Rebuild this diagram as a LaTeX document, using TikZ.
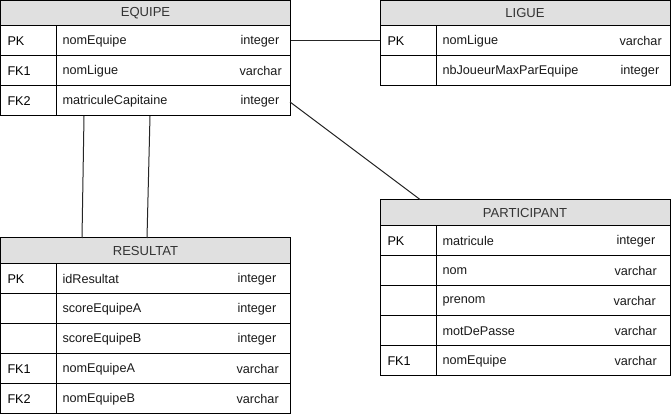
\documentclass[tikz,border=0pt]{standalone}
\usepackage{fontspec}
\setmainfont{Liberation Sans}
\definecolor{hdrgray}{HTML}{E0E0E0}
\definecolor{hdrtext}{HTML}{333333}
\definecolor{rowtext}{HTML}{1A1A1A}
\begin{document}
\begin{tikzpicture}[x=0.75pt,y=-0.75pt,line width=0.75pt,
  hdrbox/.style={draw=black,fill=hdrgray,minimum width=217.5pt,minimum height=19.5pt,inner sep=0pt,
     font=\fontsize{9.8}{11}\selectfont,text=hdrtext},
  rowbox/.style={draw=black,fill=white,minimum width=217.5pt,minimum height=22.5pt,inner sep=0pt},
  keytxt/.style={anchor=west,inner sep=0pt,font=\fontsize{9.5}{11}\selectfont},
  nametxt/.style={anchor=west,inner sep=0pt,font=\fontsize{9.5}{11}\selectfont,text=rowtext},
  typetxt/.style={anchor=west,inner sep=0pt,font=\fontsize{9.5}{11}\selectfont,text=rowtext},
  divline/.style={draw=black},
  conn/.style={draw=black!85,line width=0.75pt}]
\useasboundingbox (0,0) rectangle (671,416);
\fill[white] (0,0) rectangle (671,416);

% ---------------- EQUIPE
\node[hdrbox] (eqh) at (145.5,13.5) {EQUIPE};
\node[rowbox] (eq1) at (145.5,41) {};
\node[rowbox] (eq2) at (145.5,71) {};
\node[rowbox] (eq3) at (145.5,101) {};
\draw[divline] (56,26) -- (56,116);
\node[keytxt] (eq1k) at (7,41) {PK};
\node[nametxt] (eq1n) at (62,41) {nomEquipe};
\node[typetxt] (eq1t) at (240,41) {integer};
\node[keytxt] (eq2k) at (7,71) {FK1};
\node[nametxt] (eq2n) at (62,71) {nomLigue};
\node[typetxt] (eq2t) at (239,71) {varchar};
\node[keytxt] (eq3k) at (7,101) {FK2};
\node[nametxt] (eq3n) at (62,101) {matriculeCapitaine};
\node[typetxt] (eq3t) at (240,101) {integer};

% ---------------- LIGUE
\node[hdrbox] (lgh) at (525,13.5) {LIGUE};
\node[rowbox] (lg1) at (525,41) {};
\node[rowbox] (lg2) at (525,71) {};
\draw[divline] (436,26) -- (436,86);
\node[keytxt] (lg1k) at (387,41) {PK};
\node[nametxt] (lg1n) at (442,41) {nomLigue};
\node[typetxt] (lg1t) at (619,41) {varchar};
\node[nametxt] (lg2n) at (442,71) {nbJoueurMaxParEquipe};
\node[typetxt] (lg2t) at (620,71) {integer};

% ---------------- RESULTAT
\node[hdrbox] (rsh) at (145.5,251) {RESULTAT};
\node[rowbox] (rs1) at (145.5,279) {};
\node[rowbox] (rs2) at (145.5,309) {};
\node[rowbox] (rs3) at (145.5,339) {};
\node[rowbox] (rs4) at (145.5,369) {};
\node[rowbox] (rs5) at (145.5,399) {};
\draw[divline] (56,264) -- (56,414);
\node[keytxt] (rs1k) at (7,279) {PK};
\node[nametxt] (rs1n) at (62,279) {idResultat};
\node[typetxt] (rs1t) at (237,279) {integer};
\node[nametxt] (rs2n) at (62,309) {scoreEquipeA};
\node[typetxt] (rs2t) at (237,309) {integer};
\node[nametxt] (rs3n) at (62,339) {scoreEquipeB};
\node[typetxt] (rs3t) at (237,339) {integer};
\node[keytxt] (rs4k) at (7,369) {FK1};
\node[nametxt] (rs4n) at (62,369) {nomEquipeA};
\node[typetxt] (rs4t) at (236,369) {varchar};
\node[keytxt] (rs5k) at (7,399) {FK2};
\node[nametxt] (rs5n) at (62,399) {nomEquipeB};
\node[typetxt] (rs5t) at (236,399) {varchar};

% ---------------- PARTICIPANT
\node[hdrbox] (pah) at (525,213) {PARTICIPANT};
\node[rowbox] (pa1) at (525,241) {};
\node[rowbox] (pa2) at (525,271) {};
\node[rowbox] (pa3) at (525,301) {};
\node[rowbox] (pa4) at (525,331) {};
\node[rowbox] (pa5) at (525,361) {};
\draw[divline] (436,226) -- (436,376);
\node[keytxt] (pa1k) at (387,241) {PK};
\node[nametxt] (pa1n) at (442,241) {matricule};
\node[typetxt] (pa1t) at (616,241) {integer};
\node[nametxt] (pa2n) at (442,271) {nom};
\node[typetxt] (pa2t) at (614,271) {varchar};
\node[nametxt] (pa3n) at (442,301) {prenom};
\node[typetxt] (pa3t) at (613,301) {varchar};
\node[nametxt] (pa4n) at (442,331) {motDePasse};
\node[typetxt] (pa4t) at (614,331) {varchar};
\node[keytxt] (pa5k) at (387,361) {FK1};
\node[nametxt] (pa5n) at (442,361) {nomEquipe};
\node[typetxt] (pa5t) at (614,361) {varchar};

% ---------------- connectors
\coordinate (e3r) at (290,102);
\coordinate (ptop) at (420,199.5);
\coordinate (eb1) at (84,116);
\coordinate (rt1) at (82,238);
\coordinate (eb2) at (150,116);
\coordinate (rt2) at (147,238);
\draw[conn] (eq1.east) -- (lg1.west);
\draw[conn] (e3r) -- (ptop);
\draw[conn] (eb1) -- (rt1);
\draw[conn] (eb2) -- (rt2);
\end{tikzpicture}
\end{document}
